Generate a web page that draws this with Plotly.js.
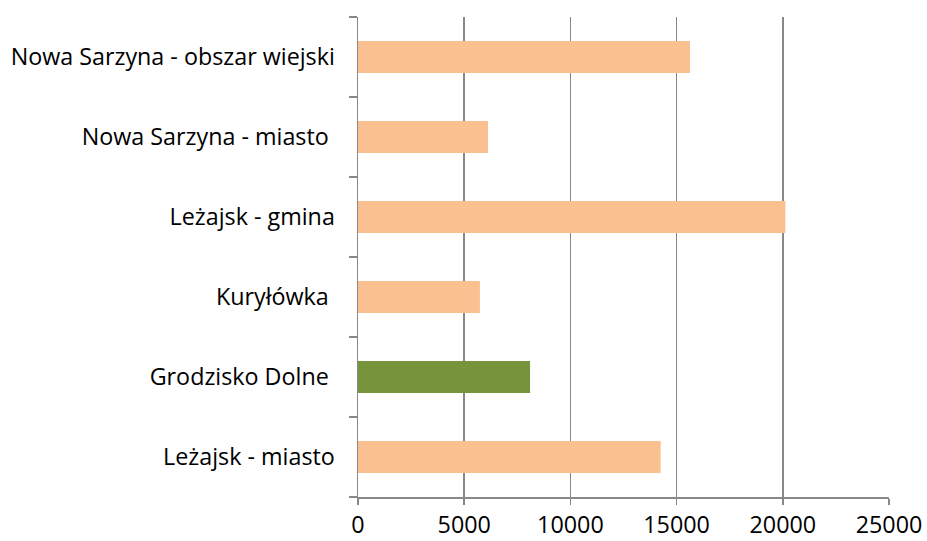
<!DOCTYPE html>
<html><head><meta charset="utf-8">
<script src="https://cdn.plot.ly/plotly-3.0.1.min.js"></script>
<style>html,body{margin:0;padding:0;background:#fff}#c{width:927px;height:541px}</style>
</head><body><div id="c"></div>
<script>
const categories = ["Leżajsk - miasto", "Grodzisko Dolne ", "Kuryłówka ", "Leżajsk - gmina", "Nowa Sarzyna - miasto ", "Nowa Sarzyna - obszar wiejski"];
const values = [14250, 8100, 5740, 20120, 6120, 15630];
const barColors = ["#FAC090", "#77933C", "#FAC090", "#FAC090", "#FAC090", "#FAC090"];
const xTicks = [0, 5000, 10000, 15000, 20000, 25000];

const font = {family: "Open Sans, Noto Sans, sans-serif", size: 23.3, color: "#000"};
Plotly.newPlot("c", [{
  type: "bar", orientation: "h", y: categories, x: values, width: 0.4,
  marker: {color: barColors}, hoverinfo: "none"
}], {
  width: 927, height: 541,
  margin: {l: 358, r: 38, t: 17, b: 44},
  paper_bgcolor: "#fff", plot_bgcolor: "#fff",
  showlegend: false,
  font: font,
  xaxis: {range: [0, 25000], tickvals: xTicks, ticktext: xTicks.map(String),
    showgrid: true, gridcolor: "#888888", gridwidth: 1.5, zeroline: false,
    showline: true, linecolor: "#888888", linewidth: 1.5,
    ticks: "outside", ticklen: 6, tickcolor: "#888888", tickwidth: 1.5,
    ticklabelstandoff: 1, tickfont: font, fixedrange: true},
  yaxis: {type: "category", categoryorder: "array", categoryarray: categories,
    showgrid: false, zeroline: false, showline: true, linecolor: "#888888", linewidth: 1.5,
    ticks: "outside", tickson: "boundaries", ticklen: 8, tickcolor: "#888888", tickwidth: 1.5,
    ticklabelstandoff: 17, tickfont: font, fixedrange: true}
}, {staticPlot: true});
</script></body></html>
